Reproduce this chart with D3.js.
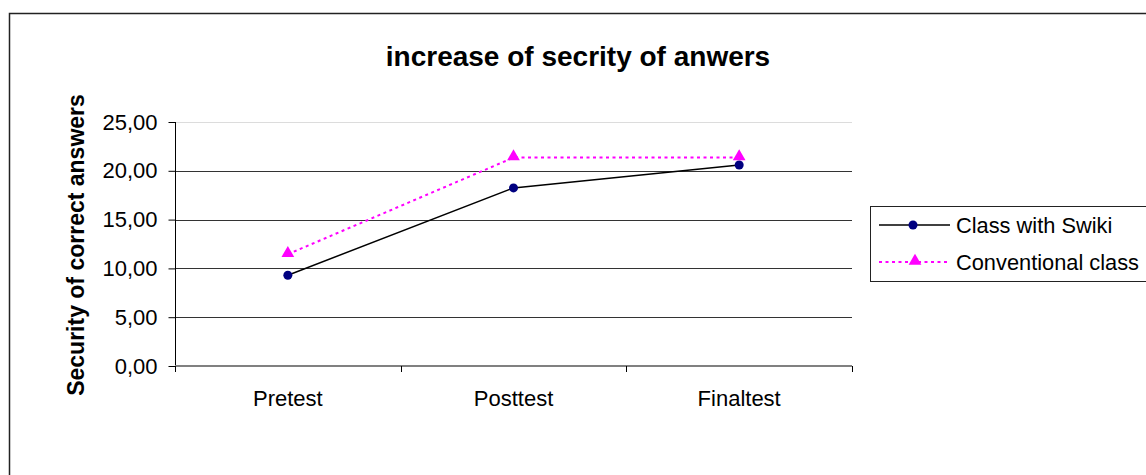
<!DOCTYPE html>
<html><head><meta charset="utf-8">
<script src="https://cdn.jsdelivr.net/npm/d3@7"></script>
<style>body{margin:0;background:#fff}svg{display:block}text{font-family:"Liberation Sans",Arial,sans-serif}</style>
</head><body><svg id="c" width="1146" height="475"></svg>
<script>
const categories = ["Pretest", "Posttest", "Finaltest"];
const swiki = [9.3, 18.25, 20.6];
const conventional = [11.45, 21.35, 21.35];
const yTicks = [0, 5, 10, 15, 20, 25];
const seriesNames = ["Class with Swiki", "Conventional class"];

const svg = d3.select("#c");
const L = 175, R = 852, T = 122, B = 366;
const FONT = "Liberation Sans, Arial, sans-serif";

svg.append("rect").attr("x", 9.5).attr("y", 13.5).attr("width", 1200).attr("height", 500)
  .attr("fill", "#fff").attr("stroke", "#222").attr("stroke-width", 1.5);

const x = d3.scaleBand().domain(categories).range([L, R]);
const y = d3.scaleLinear().domain([0, 25]).range([B, T]);

// gridlines
svg.append("g").selectAll("line").data(yTicks.filter(d => d > 0)).join("line")
  .attr("x1", L).attr("x2", R).attr("y1", d => Math.round(y(d)) + 0.5).attr("y2", d => Math.round(y(d)) + 0.5)
  .attr("stroke", d => d === 25 ? "#dcdcdc" : "#333").attr("stroke-width", 1);

// y axis
const ya = svg.append("g").attr("transform", `translate(${L + 0.5},0)`)
  .call(d3.axisLeft(y).tickValues(yTicks).tickSize(7).tickPadding(11)
    .tickFormat(d => d3.format(".2f")(d).replace(".", ",")));
ya.select(".domain").attr("stroke", "#000").attr("d", `M0,${T}V${B + 6}`);
ya.selectAll(".tick line").attr("stroke", "#000");
ya.selectAll("text").attr("font-size", 22).attr("fill", "#000").attr("font-family", FONT);

// x axis
const xa = svg.append("g").attr("transform", `translate(0,${B})`)
  .call(d3.axisBottom(x).tickSize(0).tickPadding(24));
xa.select(".domain").remove();
xa.selectAll("text").attr("font-size", 22).attr("fill", "#000").attr("font-family", FONT);
svg.append("line").attr("x1", L).attr("x2", R).attr("y1", B).attr("y2", B).attr("stroke", "#808080").attr("stroke-width", 2);
const bounds = categories.map(c => x(c)).concat([R]);
svg.append("g").selectAll("line").data(bounds).join("line")
  .attr("x1", d => Math.round(d) + 0.5).attr("x2", d => Math.round(d) + 0.5).attr("y1", B).attr("y2", B + 6)
  .attr("stroke", "#000");

const cx = c => x(c) + x.bandwidth() / 2;
const line = d3.line().x((d, i) => cx(categories[i])).y(d => y(d));

svg.append("path").datum(swiki).attr("d", line).attr("fill", "none").attr("stroke", "#000").attr("stroke-width", 1.5);
svg.append("path").datum(conventional).attr("d", line).attr("fill", "none").attr("stroke", "#ff00ff")
  .attr("stroke-width", 2).attr("stroke-dasharray", "3,3.5");

const tri = d3.symbol().type(d3.symbolTriangle).size(70);
svg.append("g").selectAll("circle").data(swiki).join("circle")
  .attr("cx", (d, i) => cx(categories[i])).attr("cy", d => y(d)).attr("r", 4.5).attr("fill", "#000080");
svg.append("g").selectAll("path").data(conventional).join("path")
  .attr("d", tri).attr("transform", (d, i) => `translate(${cx(categories[i])},${y(d) - 1})`).attr("fill", "#ff00ff");

// title
svg.append("text").attr("x", 578).attr("y", 66).attr("text-anchor", "middle")
  .attr("font-size", 28).attr("font-weight", "bold").text("increase of secrity of anwers");

// y title
svg.append("text").attr("transform", "translate(84,245) rotate(-90)").attr("text-anchor", "middle")
  .attr("font-size", 23).attr("font-weight", "bold").text("Security of correct answers");

// legend
const lg = svg.append("g");
lg.append("rect").attr("x", 870.5).attr("y", 206.5).attr("width", 400).attr("height", 75)
  .attr("fill", "#fff").attr("stroke", "#222").attr("stroke-width", 1);
const rows = [225, 262];
lg.append("line").attr("x1", 879).attr("x2", 950).attr("y1", rows[0]).attr("y2", rows[0]).attr("stroke", "#000").attr("stroke-width", 1.5);
lg.append("circle").attr("cx", 913).attr("cy", rows[0]).attr("r", 4.5).attr("fill", "#000080");
lg.append("line").attr("x1", 879).attr("x2", 950).attr("y1", rows[1]).attr("y2", rows[1]).attr("stroke", "#ff00ff").attr("stroke-width", 2).attr("stroke-dasharray", "3,3.5");
lg.append("path").attr("d", tri).attr("transform", `translate(915,${rows[1] - 1})`).attr("fill", "#ff00ff");
lg.selectAll("text").data(seriesNames).join("text").attr("x", 956).attr("y", (d, i) => rows[i] + 8)
  .attr("font-size", 21.8).text(d => d);
</script></body></html>
